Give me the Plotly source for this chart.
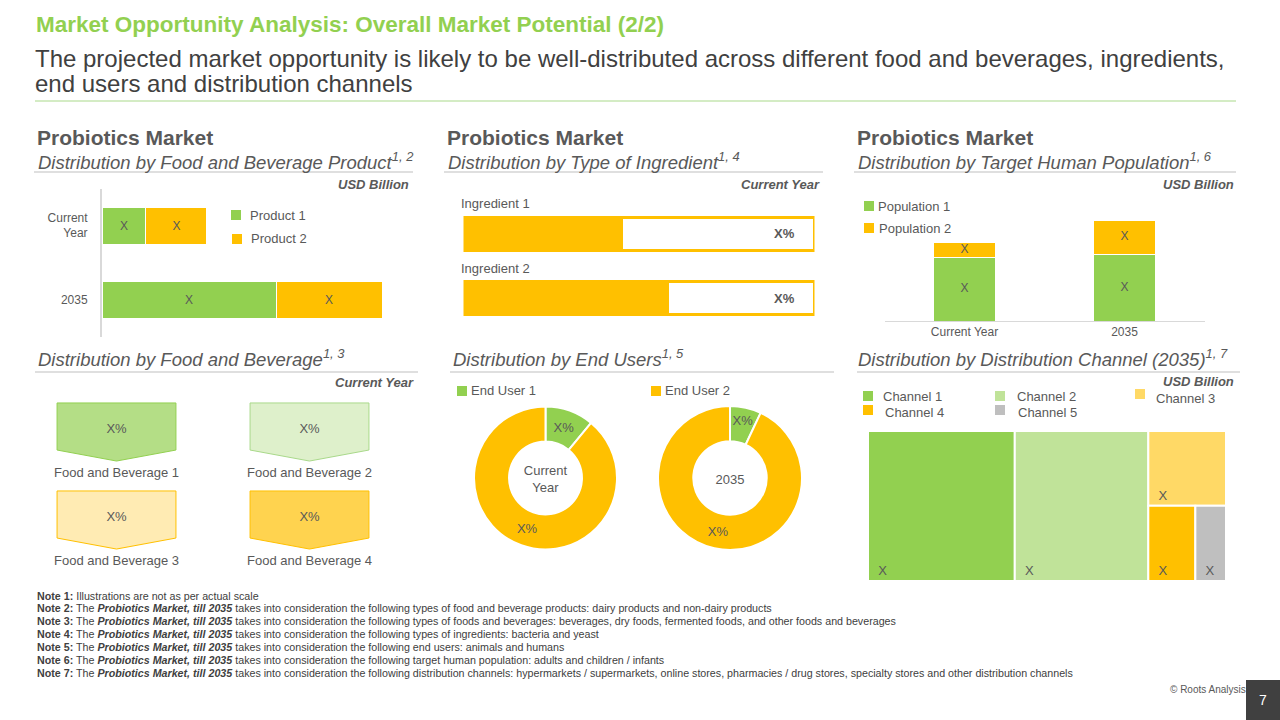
import plotly.graph_objects as go

W, H = 1280, 720
FONT = "Liberation Sans, Arial, sans-serif"
GREEN = "#92D050"
ORANGE = "#FFC000"
GREY_TXT = "#595959"
DARK_TXT = "#404040"

# ---- data ----
product_years = ["Current<br>Year", "2035"]
product_1 = [1.52, 6.02]
product_2 = [2.11, 3.67]

ingredients = ["Ingredient 1", "Ingredient 2"]
ingredient_share = [45, 58]

population_years = ["Current Year", "2035"]
population_1 = [4.9, 5.15]
population_2 = [1.15, 2.6]

food_bev = ["Food and Beverage 1", "Food and Beverage 2", "Food and Beverage 3", "Food and Beverage 4"]
food_bev_col = [0, 1, 0, 1]
food_bev_row = [0, 0, 1, 1]
food_bev_fill = ["#B4DE86", "#DEF0CB", "#FFEBB3", "#FFD34F"]
food_bev_edge = ["#92D050", "#A9D98A", "#FFC000", "#FFC000"]

end_users = ["End User 1", "End User 2"]
end_user_current = [11, 89]
end_user_2035 = [7, 93]

channels = ["Channel 1", "Channel 2", "Channel 3", "Channel 4", "Channel 5"]
channel_values = [41.0, 37.3, 10.8, 6.6, 4.3]
channel_colors = ["#92D050", "#C0E399", "#FFD966", "#FFC000", "#BFBFBF"]

notes = [
    ("Note 1:", "Illustrations are not as per actual scale", False),
    ("Note 2:", "takes into consideration the following types of food and beverage products: dairy products and non-dairy products", True),
    ("Note 3:", "takes into consideration the following types of foods and beverages: beverages, dry foods, fermented foods, and other foods and beverages", True),
    ("Note 4:", "takes into consideration the following types of ingredients: bacteria and yeast", True),
    ("Note 5:", "takes into consideration the following end users: animals and humans", True),
    ("Note 6:", "takes into consideration the following target human population: adults and children / infants", True),
    ("Note 7:", "takes into consideration the following distribution channels: hypermarkets / supermarkets, online stores, pharmacies / drug stores, specialty stores and other distribution channels", True),
]


def px(x):
    return x / W


def py(y):
    return 1 - y / H


annotations = []
shapes = []


def text(x, y, s, size=12, color=GREY_TXT, anchor="left"):
    annotations.append(dict(x=px(x), y=py(y), xref="paper", yref="paper", text=s,
                            showarrow=False, xanchor=anchor, yanchor="middle",
                            font=dict(size=size, color=color, family=FONT)))


def hline(x0, x1, y, color="#BFBFBF", width=1):
    shapes.append(dict(type="line", xref="paper", yref="paper", x0=px(x0), x1=px(x1),
                       y0=py(y), y1=py(y), line=dict(color=color, width=width)))


def legend_item(x, y, label, color, tx, ty=None):
    shapes.append(dict(type="rect", xref="paper", yref="paper", x0=px(x), x1=px(x + 10),
                       y0=py(y + 5), y1=py(y - 5), fillcolor=color, line=dict(width=0)))
    text(tx, ty if ty else y, label, size=13)


fig = go.Figure()

# ---- top-left: food and beverage product (horizontal stacked) ----
for name, vals, col in [("Product 1", product_1, GREEN), ("Product 2", product_2, ORANGE)]:
    fig.add_trace(go.Bar(y=product_years, x=vals, orientation="h", name=name, width=0.5,
                         marker=dict(color=col, line=dict(color="white", width=1)),
                         text=["X"] * len(vals), textposition="inside", insidetextanchor="middle",
                         insidetextfont=dict(size=12, color=GREY_TXT), constraintext="none",
                         xaxis="x", yaxis="y", showlegend=False, hoverinfo="skip"))

# ---- top-middle: ingredient share bars ----
fig.add_trace(go.Bar(y=ingredients, x=ingredient_share, orientation="h", width=0.515,
                     marker=dict(color=ORANGE, line=dict(color=ORANGE, width=3)),
                     xaxis="x2", yaxis="y2", showlegend=False, hoverinfo="skip"))
fig.add_trace(go.Bar(y=ingredients, x=[100 - v for v in ingredient_share], orientation="h", width=0.515,
                     marker=dict(color="white", line=dict(color=ORANGE, width=3)),
                     xaxis="x2", yaxis="y2", showlegend=False, hoverinfo="skip"))
for ing in ingredients:
    annotations.append(dict(x=0, y=ing, xref="x2", yref="y2", text=ing, showarrow=False,
                            xanchor="left", yanchor="middle", yshift=30, xshift=-5,
                            font=dict(size=13, color=GREY_TXT, family=FONT)))
    annotations.append(dict(x=100, y=ing, xref="x2", yref="y2", text="<b>X%</b>", showarrow=False,
                            xanchor="right", yanchor="middle", xshift=-18,
                            font=dict(size=13, color=GREY_TXT, family=FONT)))

# ---- top-right: target human population (vertical stacked) ----
for name, vals, col in [("Population 1", population_1, GREEN), ("Population 2", population_2, ORANGE)]:
    fig.add_trace(go.Bar(x=population_years, y=vals, name=name, width=0.39,
                         marker=dict(color=col, line=dict(color="white", width=1)),
                         xaxis="x3", yaxis="y3", showlegend=False, hoverinfo="skip"))
# segment labels at segment mid-heights (kept full size even on thin segments)
fig.add_trace(go.Scatter(x=population_years * 2,
                         y=[v / 2 for v in population_1] + [a + b / 2 for a, b in zip(population_1, population_2)],
                         mode="text", text=["X"] * 4, textfont=dict(size=12, color=GREY_TXT),
                         xaxis="x3", yaxis="y3", showlegend=False, hoverinfo="skip"))

# ---- bottom-left: food and beverage pentagons ----
HW, TOP, SHOULDER, TIP = 0.308, -0.33, 0.205, 0.33
for name, c, r, fillc, edge in zip(food_bev, food_bev_col, food_bev_row, food_bev_fill, food_bev_edge):
    fig.add_trace(go.Scatter(x=[c - HW, c + HW, c + HW, c, c - HW, c - HW],
                             y=[r + TOP, r + TOP, r + SHOULDER, r + TIP, r + SHOULDER, r + TOP],
                             mode="lines", fill="toself", fillcolor=fillc,
                             line=dict(color=edge, width=1), xaxis="x4", yaxis="y4",
                             showlegend=False, hoverinfo="skip"))
fig.add_trace(go.Scatter(x=food_bev_col, y=[r - 0.02 for r in food_bev_row], mode="text",
                         text=["X%"] * len(food_bev), textfont=dict(size=13, color=GREY_TXT),
                         xaxis="x4", yaxis="y4", showlegend=False, hoverinfo="skip"))
for name, c, r in zip(food_bev, food_bev_col, food_bev_row):
    annotations.append(dict(x=c, y=r + 0.46, xref="x4", yref="y4", text=name, showarrow=False,
                            font=dict(size=13, color=GREY_TXT, family=FONT)))

# ---- bottom-middle: end user donuts ----
for vals, title, x0, x1 in [(end_user_current, "Current<br>Year", 474, 617),
                            (end_user_2035, "2035", 658, 802)]:
    fig.add_trace(go.Pie(labels=end_users, values=vals, hole=0.51, sort=False, direction="clockwise",
                         marker=dict(colors=[GREEN, ORANGE], line=dict(color="white", width=2)),
                         text=["X%", "X%"], textinfo="text", textposition="inside",
                         insidetextorientation="horizontal",
                         textfont=dict(size=13, color=GREY_TXT),
                         title=dict(text=title, position="middle center", font=dict(size=13, color=GREY_TXT)),
                         domain=dict(x=[px(x0), px(x1)], y=[py(550), py(406)]),
                         showlegend=False, hoverinfo="skip"))

# ---- bottom-right: distribution channel treemap ----
fig.add_trace(go.Treemap(labels=channels, parents=[""] * len(channels), values=channel_values,
                         marker=dict(colors=channel_colors, line=dict(color="white", width=2),
                                     pad=dict(t=0, l=0, r=0, b=0)),
                         texttemplate="\u00a0\u00a0X", textposition="bottom left",
                         textfont=dict(size=13, color=GREY_TXT, family=FONT),
                         tiling=dict(packing="squarify", pad=0), pathbar=dict(visible=False),
                         sort=True, domain=dict(x=[px(868), px(1226)], y=[py(581), py(431)]),
                         hoverinfo="skip"))

# ---- slide text ----
text(34, 25, "<b>Market Opportunity Analysis: Overall Market Potential (2/2)</b>", 22.5, GREEN)
text(33, 58, "The projected market opportunity is likely to be well-distributed across different food and beverages, ingredients,", 24, DARK_TXT)
text(33, 83, "end users and distribution channels", 24, DARK_TXT)
hline(35, 1236, 101, color="#A9D98A", width=1)

for x0, x1, sub, sup in [(37, 413, "Distribution by Food and Beverage Product", "1, 2"),
                         (447, 823, "Distribution by Type of Ingredient", "1, 4"),
                         (857, 1236, "Distribution by Target Human Population", "1, 6")]:
    text(x0 - 2, 137, "<b>Probiotics Market</b>", 21, GREY_TXT)
    text(x0 - 1, 161, f"<i>{sub}<sup>{sup}</sup></i>", 18.5, GREY_TXT)
    hline(x0 - 3, x1, 172)

text(36, 358, "<i>Distribution by Food and Beverage<sup>1, 3</sup></i>", 18.5, GREY_TXT)
hline(35, 418, 372)
text(451, 358, "<i>Distribution by End Users<sup>1, 5</sup></i>", 18.5, GREY_TXT)
hline(450, 834, 372)
text(856, 358, "<i>Distribution by Distribution Channel (2035)<sup>1, 7</sup></i>", 18.5, GREY_TXT)
hline(857, 1240, 372)

text(411, 184, "<b><i>USD Billion</i></b>", 13, GREY_TXT, anchor="right")
text(822, 184, "<b><i>Current Year</i></b>", 13, GREY_TXT, anchor="right")
text(1236, 184, "<b><i>USD Billion</i></b>", 13, GREY_TXT, anchor="right")
text(416, 382, "<b><i>Current Year</i></b>", 13, GREY_TXT, anchor="right")
text(1236, 381, "<b><i>USD Billion</i></b>", 13, GREY_TXT, anchor="right")

# legends
legend_item(231, 215, "Product 1", GREEN, tx=248)
legend_item(232, 239, "Product 2", ORANGE, tx=249)
legend_item(864, 206, "Population 1", GREEN, tx=876)
legend_item(864, 228, "Population 2", ORANGE, tx=877)
legend_item(457, 391, "End User 1", GREEN, tx=469)
legend_item(651, 391, "End User 2", ORANGE, tx=663)
legend_item(863, 396, "Channel 1", channel_colors[0], tx=881)
legend_item(995, 396, "Channel 2", channel_colors[1], tx=1015)
legend_item(1135, 394, "Channel 3", channel_colors[2], tx=1154, ty=398)
legend_item(863, 410, "Channel 4", channel_colors[3], tx=883, ty=412)
legend_item(995, 410, "Channel 5", channel_colors[4], tx=1016, ty=412)

# notes
for i, (head, body, market) in enumerate(notes):
    y = [596, 608, 621, 634, 647, 660, 673][i]
    mid = " The <b><i>Probiotics Market, till 2035</i></b> " if market else " "
    text(35, y, f"<b>{head}</b>{mid}{body}", 10.7, DARK_TXT)

text(1248, 689, "© Roots Analysis", 10, GREY_TXT, anchor="right")
shapes.append(dict(type="rect", xref="paper", yref="paper", x0=px(1246), x1=1, y0=0, y1=py(680),
                   fillcolor="#404040", line=dict(width=0), layer="above"))
text(1263, 700, "7", 14, "white", anchor="center")

axis_off = dict(visible=False, fixedrange=True)
fig.update_layout(
    width=W, height=H, margin=dict(l=0, r=0, t=0, b=0),
    paper_bgcolor="white", plot_bgcolor="white",
    font=dict(family=FONT, color=GREY_TXT),
    barmode="stack", showlegend=False,
    xaxis=dict(domain=[px(102), px(420)], range=[0, 11], **axis_off),
    yaxis=dict(domain=[py(336.5), py(188.5)], anchor="x", autorange="reversed",
               showline=True, linecolor="#D9D9D9", linewidth=2, ticks="", showgrid=False,
               zeroline=False, ticklabelstandoff=10, tickfont=dict(size=12, color=GREY_TXT)),
    xaxis2=dict(domain=[px(463.5), px(814.5)], range=[0, 100], anchor="y2", **axis_off),
    yaxis2=dict(domain=[py(337.5), py(201.5)], anchor="x2", autorange="reversed", **axis_off),
    xaxis3=dict(domain=[px(884.5), px(1204.5)], anchor="y3", showline=True, linecolor="#D9D9D9",
                linewidth=1, ticks="", showgrid=False, tickfont=dict(size=12, color=GREY_TXT)),
    yaxis3=dict(domain=[py(321), py(191)], range=[0, 10], anchor="x3", **axis_off),
    xaxis4=dict(domain=[px(20), px(406)], range=[-0.5, 1.5], anchor="y4", **axis_off),
    yaxis4=dict(domain=[py(564), py(388)], range=[1.5, -0.5], anchor="x4", **axis_off),
    annotations=annotations, shapes=shapes,
)

fig.write_html("out.html", config={"displayModeBar": False},
               post_script="document.body.style.margin='0';")
